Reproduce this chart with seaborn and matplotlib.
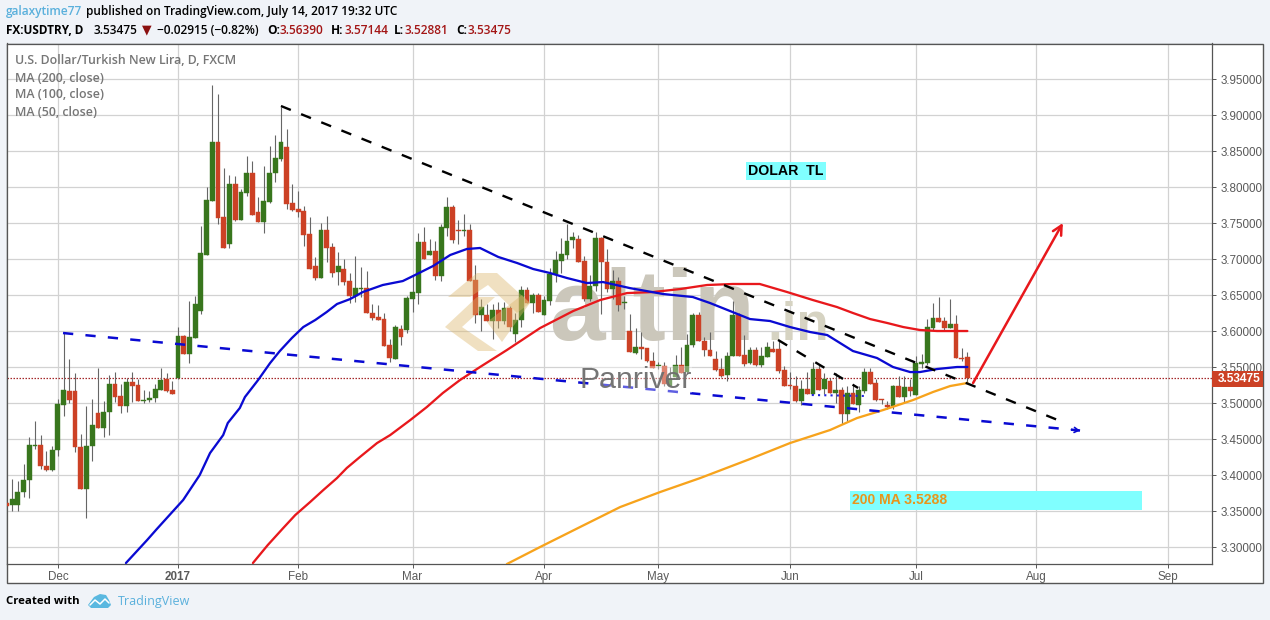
import matplotlib
matplotlib.use("Agg")
import matplotlib.pyplot as plt
from matplotlib.patches import Polygon, Rectangle
import numpy as np
import pandas as pd
import seaborn as sns

# ---------- data ----------
opens = [3.362,3.3586,3.3586,3.3766,3.3932,3.4412,3.4421,3.4135,3.407,3.4347,
3.4983,3.5172,3.5168,3.4398,3.3808,3.4402,3.4863,3.4651,3.4873,3.5264,
3.5098,3.4969,3.5297,3.5251,3.5038,3.5043,3.5075,3.5186,3.5334,3.5181,
3.5347,3.5935,3.5685,3.5912,3.6287,3.7065,3.7815,3.863,3.7588,3.7218,
3.8042,3.7542,3.7926,3.8194,3.7657,3.7523,3.7801,3.8194,3.8398,3.856,
3.7782,3.7699,3.7671,3.7352,3.6907,3.6745,3.7407,3.7171,3.6824,3.6861,
3.6695,3.6491,3.6593,3.6607,3.6259,3.6195,3.6167,3.5806,3.5615,3.6027,
3.6018,3.6453,3.6537,3.7241,3.7055,3.7116,3.6773,3.744,3.7727,3.7403,
3.7393,3.7403,3.6713,3.6227,3.6227,3.6148,3.6296,3.6148,3.6329,3.5967,
3.6153,3.6574,3.6393,3.65,3.6227,3.6426,3.6791,3.6977,3.706,3.7268,
3.7278,3.6981,3.6449,3.6634,3.7296,3.6967,3.6592,3.6699,3.6389,3.6,
3.5704,3.5787,3.5764,3.5592,3.5514,3.5523,3.5245,3.5361,3.5537,3.543,
3.5805,3.6231,3.587,3.574,3.562,3.5481,3.5393,3.5653,3.6231,3.5671,
3.5555,3.574,3.5537,3.5648,3.5759,3.5759,3.5463,3.525,3.5236,3.5032,
3.5194,3.5134,3.5472,3.5194,3.531,3.5148,3.5185,3.4856,3.5139,3.4972,
3.5171,3.5435,3.5278,3.506,3.4977,3.4963,3.5241,3.5088,3.5227,3.5115,
3.5541,3.5565,3.6051,3.618,3.6143,3.6051,3.6097,3.5634,3.5639]
closes = [3.3574,3.3665,3.3775,3.3941,3.4421,3.4421,3.4126,3.407,3.4356,3.4988,
3.5186,3.5048,3.4389,3.3808,3.4412,3.4697,3.4651,3.4877,3.5264,3.5094,
3.4969,3.5297,3.5246,3.5038,3.5048,3.5071,3.5195,3.5329,3.5177,3.5135,
3.5935,3.5685,3.5921,3.6379,3.7083,3.7824,3.863,3.7579,3.7162,3.8042,
3.7542,3.7935,3.8194,3.7611,3.7523,3.7806,3.8194,3.8403,3.863,3.7773,
3.769,3.7662,3.7343,3.687,3.6745,3.7407,3.7162,3.6815,3.6903,3.6685,
3.6486,3.6597,3.6607,3.6255,3.6185,3.6157,3.5796,3.5625,3.606,3.5926,
3.6463,3.6541,3.7241,3.7004,3.7116,3.6773,3.7449,3.7727,3.7268,3.7393,
3.7403,3.6704,3.6227,3.6333,3.6148,3.6296,3.6148,3.6329,3.6065,3.6153,
3.6574,3.6389,3.65,3.6273,3.643,3.6791,3.6986,3.7069,3.7254,3.731,
3.6967,3.6449,3.6634,3.7296,3.6958,3.6592,3.6699,3.637,3.6398,3.5708,
3.5787,3.575,3.5592,3.5486,3.5523,3.5268,3.5338,3.5537,3.5421,3.581,
3.6231,3.5861,3.574,3.5662,3.5467,3.5379,3.5662,3.6231,3.5662,3.5546,
3.574,3.5537,3.5662,3.5787,3.5717,3.5453,3.5241,3.5236,3.5032,3.5194,
3.5134,3.5472,3.5185,3.5333,3.5148,3.5185,3.4847,3.5139,3.4986,3.518,
3.5435,3.5273,3.5051,3.5041,3.4949,3.5241,3.5088,3.5227,3.5171,3.5555,
3.5574,3.606,3.618,3.6134,3.6051,3.6106,3.5634,3.5616,3.53475]
highs = [3.379,3.395,3.3927,3.4158,3.4536,3.4757,3.4564,3.4342,3.4412,3.5057,
3.598,3.561,3.5421,3.4573,3.4965,3.5057,3.5495,3.5034,3.5393,3.5435,
3.5264,3.5357,3.5435,3.5334,3.5181,3.5172,3.5274,3.5495,3.5417,3.531,
3.6064,3.5949,3.6426,3.649,3.7463,3.8,3.9421,3.9292,3.8264,3.8167,
3.8157,3.7972,3.8435,3.8366,3.7866,3.8296,3.8574,3.8722,3.9116,3.8806,
3.8042,3.7949,3.7736,3.7588,3.7032,3.75,3.7602,3.7231,3.7102,3.7009,
3.6815,3.7042,3.6894,3.6838,3.6375,3.6361,3.626,3.5898,3.6088,3.6083,
3.649,3.6778,3.7361,3.7454,3.7278,3.7254,3.7486,3.7866,3.7755,3.7542,
3.7625,3.7486,3.6916,3.6444,3.6384,3.6375,3.6412,3.6407,3.635,3.626,
3.6629,3.662,3.6537,3.6537,3.6491,3.6884,3.7116,3.7292,3.7486,3.7375,
3.7338,3.7051,3.6787,3.7375,3.7315,3.7143,3.6852,3.675,3.6495,3.624,
3.6046,3.5995,3.5764,3.5717,3.5579,3.557,3.55,3.5671,3.5787,3.5963,
3.6259,3.6268,3.5917,3.5995,3.5722,3.5625,3.5708,3.6426,3.625,3.5949,
3.5778,3.5787,3.5787,3.5847,3.5861,3.587,3.552,3.544,3.538,3.533,
3.5435,3.5574,3.5551,3.5426,3.5356,3.5426,3.5227,3.5241,3.5273,3.5241,
3.5486,3.5486,3.5333,3.5065,3.5032,3.5255,3.538,3.538,3.5333,3.5657,
3.568,3.6167,3.6389,3.6477,3.62,3.6444,3.6227,3.5773,3.57144]
lows = [3.351,3.351,3.351,3.3697,3.3683,3.4361,3.4084,3.4066,3.4066,3.4273,
3.4826,3.5011,3.4319,3.3808,3.3406,3.4204,3.4651,3.4527,3.4564,3.5025,
3.4859,3.4873,3.5025,3.5034,3.5011,3.5025,3.5025,3.5186,3.5163,3.5135,
3.5334,3.5685,3.5564,3.59,3.624,3.7065,3.7815,3.7495,3.7162,3.7162,
3.7532,3.7542,3.788,3.7611,3.7523,3.737,3.7787,3.8079,3.8366,3.7704,
3.7671,3.7593,3.7185,3.687,3.6708,3.6736,3.6963,3.6755,3.6639,3.6639,
3.6394,3.6408,3.6477,3.6255,3.6153,3.6157,3.5796,3.5574,3.5615,3.581,
3.598,3.6273,3.6375,3.7004,3.7055,3.6713,3.6699,3.7324,3.7231,3.7217,
3.7324,3.6704,3.612,3.6004,3.6148,3.5889,3.6041,3.6097,3.6004,3.5856,
3.6065,3.6389,3.6259,3.6273,3.6227,3.6365,3.668,3.6815,3.6999,3.7153,
3.6967,3.6426,3.6426,3.6565,3.624,3.6542,3.6449,3.6287,3.631,3.5708,
3.5685,3.5615,3.5569,3.5486,3.5477,3.5245,3.5236,3.5338,3.5416,3.5407,
3.5787,3.5861,3.5662,3.5662,3.5452,3.5361,3.5305,3.5653,3.5662,3.5514,
3.5546,3.5514,3.55,3.5648,3.5717,3.5416,3.5236,3.5194,3.5023,3.4977,
3.5134,3.5125,3.5185,3.5134,3.5138,3.4999,3.4708,3.4754,3.4986,3.488,
3.5148,3.5264,3.5032,3.4989,3.4916,3.4916,3.5088,3.4999,3.5102,3.5115,
3.5486,3.553,3.6014,3.6134,3.6018,3.6051,3.5634,3.559,3.52881]

ma50_bar = [20.9,24.6,26.3,30.9,33.8,35.6,37.9,38.7,40.8,41.7,44.0,46.1,47.8,49.9,51.9,54.0,56.0,57.8,60.1,62.3,65.8,69.3,71.1,74.6,77.6,80.5,82.8,86.0,89.3,92.1,95.0,98.0,101.5,104.3,109.0,114.8,120.0,123.0,126.5,130.0,133.5,137.0,140.5,143.5,148.0,152.2,155.0,158.0,159.7,162.7,166.2,168.0]
ma50_val = [3.2782,3.3101,3.3254,3.3657,3.4004,3.4309,3.4559,3.4726,3.4934,3.5087,3.5323,3.5559,3.5726,3.5906,3.6059,3.6157,3.6268,3.6379,3.6448,3.6545,3.6643,3.6698,3.6768,3.6907,3.706,3.7143,3.7157,3.7032,3.6948,3.6865,3.681,3.674,3.667,3.6684,3.66,3.6518,3.6476,3.6393,3.6282,3.617,3.6143,3.6059,3.599,3.5948,3.5726,3.5629,3.5504,3.5434,3.5434,3.5476,3.5504,3.5504]
ma100_bar = [43.1,45.7,48.4,50.5,53.1,55.4,57.8,59.5,61.8,64.8,67.1,70.6,73.5,76.3,79.3,82.8,87.5,93.3,99.1,103.8,108.5,113.0,117.8,122.5,127.0,131.7,136.5,141.0,145.2,148.0,151.0,154.0,156.8,159.7,162.7,168.0]
ma100_val = [3.2782,3.3032,3.3268,3.3448,3.3629,3.3795,3.3962,3.4101,3.4254,3.4448,3.4559,3.4767,3.4948,3.5143,3.5323,3.5504,3.574,3.6045,3.6282,3.6434,3.6531,3.6545,3.6587,3.6643,3.6657,3.6657,3.6545,3.6434,3.6337,3.6254,3.617,3.6115,3.6059,3.6018,3.6004,3.6004]
ma200_bar = [87.5,93.3,100.3,107.3,114.3,121.3,130.0,137.0,144.0,148.7,153.3,158.5,162.0,165.0,168.0]
ma200_val = [3.2768,3.3004,3.3282,3.3559,3.3768,3.3962,3.4226,3.4448,3.4629,3.4795,3.4907,3.5045,3.5157,3.524,3.5282]

black_trend_bar = [48.0,185.1];  black_trend_val = [3.9129,3.4726]
black_short_bar = [134.9,148.9]; black_short_val = [3.588,3.5213]
blue_trend_bar = [9.9,187.7];    blue_trend_val = [3.5976,3.4622]
blue_dot_bar = [140.8,150.5];    blue_dot_val = [3.5115,3.5101]
red_arrow_bar = [169.0,184.7];   red_arrow_val = [3.5282,3.7504]
band_bar = [147.5,198.5];        band_val = [3.3525,3.3782]

y_ticks = [3.30,3.35,3.40,3.45,3.50,3.55,3.60,3.65,3.70,3.75,3.80,3.85,3.90,3.95]
month_pos = [9,30,51,71,94,114,137,159,180,203]
month_labels = ["Dec","2017","Feb","Mar","Apr","May","Jun","Jul","Aug","Sep"]
last_price = 3.53475

# ---------- style ----------
W, H = 1270, 620
BG = "#f0f3f8"
GRID = "#d2d2d2"
AX = "#555555"
UP, DOWN = "#38761d", "#cc4125"
sns.set_theme(style="white")
plt.rcParams["font.family"] = ["Liberation Sans", "DejaVu Sans"]

fig = plt.figure(figsize=(W/100, H/100), dpi=100, facecolor=BG)
def fx(x): return x / W
def fy(y): return 1 - y / H
def P(pts): return [(fx(x), fy(y)) for x, y in pts]

ax = fig.add_axes([fx(6.5), fy(564.3), fx(1212) - fx(6.5), fy(43.5) - fy(564.3)], facecolor="white")
fig.add_artist(Rectangle((fx(6.5), fy(583)), fx(1263) - fx(6.5), fy(43.5) - fy(583),
                         transform=fig.transFigure, facecolor="white", edgecolor=AX, lw=1, zorder=-5))
ax.set_xlim(0.017, 210.77)
ax.set_ylim(3.2764, 3.9997)
ax.yaxis.tick_right()
ax.set_yticks(y_ticks)
ax.set_yticklabels([f"{v:.5f}" for v in y_ticks], fontsize=8.4, color="#5a5a5a")
ax.set_xticks(month_pos)
ax.set_xticklabels(month_labels, fontsize=8.4, color="#5a5a5a")
ax.get_xticklabels()[1].set_fontweight("bold")
ax.tick_params(axis="y", length=3, width=0.7, color=AX, pad=3, right=True)
ax.tick_params(axis="x", length=3, width=0.7, color=AX, pad=1.5, bottom=True)
ax.grid(True, color=GRID, lw=0.9, zorder=0)
ax.set_axisbelow(True)
for s in ax.spines.values():
    s.set_color(AX); s.set_linewidth(0.9)

# watermark text below the candles
ax.text(fx(549), fy(340), "altin", transform=fig.transFigure, fontsize=72, fontweight="bold",
        color="#cbc7bb", zorder=1, va="baseline", ha="left")
ax.text(fx(767), fy(340), ".in", transform=fig.transFigure, fontsize=38, fontweight="bold",
        color="#d6d3c2", zorder=1, va="baseline", ha="left")

# cyan band and level line
ax.add_patch(Rectangle((band_bar[0], band_val[0]), band_bar[1]-band_bar[0], band_val[1]-band_val[0],
                       facecolor="#80ffff", edgecolor="none", zorder=1.5))
ax.axhline(last_price, color="#a5282a", lw=0.9, ls=(0, (1.2, 1.2)), zorder=2)

# candles
idx = np.arange(len(opens))
o, h, l, c = map(np.array, (opens, highs, lows, closes))
cols = np.where(c >= o, UP, DOWN)
ax.vlines(idx, l, h, color="#666666", lw=0.8, zorder=3)
ax.bar(idx, np.maximum(np.abs(c - o), 0.0012), bottom=np.minimum(o, c), width=0.84,
       color=cols, edgecolor=cols, lw=0.3, zorder=3.2)

# moving averages
for xs, ys, col in [(ma200_bar, ma200_val, "#f7a31c"),
                    (ma100_bar, ma100_val, "#e8181c"),
                    (ma50_bar, ma50_val, "#0a0ad2")]:
    sns.lineplot(data=pd.DataFrame({"bar": xs, "price": ys}), x="bar", y="price",
                 color=col, lw=1.65, estimator=None, sort=False, ax=ax, zorder=4)
ax.set_xlabel(""); ax.set_ylabel("")

# trend lines
ax.plot(black_trend_bar, black_trend_val, color="black", lw=1.7, ls=(0, (4.5, 4.7)), zorder=5)
ax.plot(black_short_bar, black_short_val, color="black", lw=1.7, ls=(0, (4.5, 4.7)), zorder=5)
ax.plot(blue_trend_bar, blue_trend_val, color="#0a0ad2", lw=1.8, ls=(0, (4.1, 4.9)), zorder=5)
ax.plot(blue_dot_bar, blue_dot_val, color="#2222dd", lw=1.5, ls=(0, (1, 2)), zorder=5)
ax.annotate("", xy=(blue_trend_bar[1], blue_trend_val[1]),
            xytext=(blue_trend_bar[1] - 1.5, blue_trend_val[1] + 0.0012),
            arrowprops=dict(arrowstyle="->,head_length=0.25,head_width=0.15", color="#0a0ad2", lw=1.2,
                            shrinkA=0, shrinkB=0), zorder=5)
ax.annotate("", xy=(red_arrow_bar[1], red_arrow_val[1]), xytext=(red_arrow_bar[0], red_arrow_val[0]),
            arrowprops=dict(arrowstyle="->,head_length=0.55,head_width=0.28", color="#e8181c", lw=1.8,
                            shrinkA=0, shrinkB=0), zorder=5)

# washed watermark on top
ax.add_patch(Rectangle((fx(592), fy(393)), fx(692)-fx(592), fy(366)-fy(393), transform=fig.transFigure,
                       facecolor="white", alpha=0.35, edgecolor="none", zorder=6))
ax.text(fx(579.5), fy(388), "Panriver", transform=fig.transFigure, fontsize=21.8, color="#6e6e6e",
        alpha=0.95, zorder=8, va="baseline", ha="left")
for pts in ([(448,297),(477,273),(497,273),(530,303),(517,313),(488,285),(470,297)],
            [(445,327),(477,297),(495,297),(462,327),(497,351),(478,351)],
            [(487,322),(522,295),(530,303),(502,342)]):
    ax.add_patch(Polygon(P(pts), closed=True, transform=fig.transFigure, facecolor="#dcb76c",
                         alpha=0.42, edgecolor="none", zorder=7))

# annotations
ax.text(fx(786), fy(171), "DOLAR  TL", transform=fig.transFigure, fontsize=10.2, fontweight="bold",
        color="black", ha="center", va="center", zorder=9,
        bbox=dict(facecolor="#80ffff", edgecolor="none", pad=1.6))
ax.text(fx(852), fy(500), "200 MA 3.5288", transform=fig.transFigure, fontsize=10.1, fontweight="bold",
        color="#e8951c", ha="left", va="center", zorder=9)

# pane legend
UI = ["Open Sans", "DejaVu Sans"]
LEG = "#767676"
ax.text(fx(15), fy(61), "U.S. Dollar/Turkish New Lira, D, FXCM", transform=fig.transFigure,
        family=UI, fontsize=8.9, fontweight="semibold", color=LEG, va="center", zorder=9)
for y, s in zip((78, 95, 112), ("MA (200, close)", "MA (100, close)", "MA (50, close)")):
    ax.text(fx(15), fy(y), s, transform=fig.transFigure, family=UI, fontsize=8.9,
            fontweight="semibold", color=LEG, va="center", zorder=9)

# price tag
fig.add_artist(Rectangle((fx(1212), fy(387)), fx(1263)-fx(1212), fy(371)-fy(387), transform=fig.transFigure,
                         facecolor="#cc4125", edgecolor="none", zorder=5))
fig.text(fx(1239), fy(379), f"{last_price:.5f}", color="white", fontsize=8.6, fontweight="bold",
         ha="center", va="center", zorder=6)

# header
def head(x, y, s, col="black", **kw):
    fig.text(fx(x), fy(y), s, color=col, family=UI, fontsize=kw.pop("fs", 8.6),
             fontweight=kw.pop("fw", "semibold"), va="center", ha="left", **kw)
head(6, 11, "galaxytime77", "#5ab0dc")
head(86, 11, "published on TradingView.com, July 14, 2017 19:32 UTC")
D = "#a31515"
head(6, 30, "FX:USDTRY, D", fw="bold", fs=8.5)
head(94, 30, "3.53475")
head(142, 30, "\u25BC", "#8b1010", fs=9)
head(157, 30, "\u22120.02915 (\u22120.82%)")
head(267, 30, "O:", fw="bold"); head(280, 30, "3.56390", D)
head(331, 30, "H:", fw="bold"); head(345, 30, "3.57144", D)
head(394, 30, "L:", fw="bold"); head(405, 30, "3.52881", D)
head(456, 30, "C:", fw="bold"); head(468, 30, "3.53475", D)

# footer
head(6, 602, "Created with", fw="bold", fs=8.2)
fig.add_artist(Polygon(P([(88,605),(94,597),(100,594),(106,595),(109,600),(111,605),(108,608),(91,608)]),
                       closed=True, transform=fig.transFigure, facecolor="#5ab8e0", edgecolor="none"))
fig.add_artist(plt.Line2D([fx(90),fx(95),fx(100),fx(105),fx(109)], [fy(605),fy(600),fy(604),fy(599),fy(603)],
                          transform=fig.transFigure, color="white", lw=1.1))
head(118, 602, "TradingView", "#5ab0dc", fw="normal", fs=9.0)

fig.savefig("out.png", dpi=100, facecolor=BG)
